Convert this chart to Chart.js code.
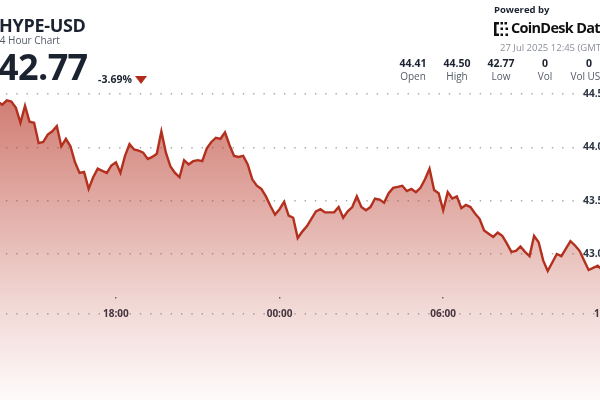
<!DOCTYPE html>
<html>
<head>
<meta charset="utf-8">
<script src="https://cdn.jsdelivr.net/npm/chart.js@4.4.1/dist/chart.umd.min.js"></script>
<style>
html,body{margin:0;padding:0;width:600px;height:400px;overflow:hidden;background:#fff;font-family:'Open Sans',sans-serif;color:#1b2230;}
#wrap{position:absolute;left:-25px;top:0;width:650px;height:400px;}
.t{position:absolute;white-space:nowrap;line-height:1;}
.col{position:absolute;width:60px;text-align:center;white-space:nowrap;line-height:1;}
.v{top:57.5px;font-size:10.5px;font-weight:700;color:#1b2230;}
.l{top:71px;font-size:10px;color:#555b66;}
</style>
</head>
<body>
<div id="wrap"><canvas id="c"></canvas></div>

<div class="t" style="left:-1px;top:15.5px;font-size:18px;font-weight:700;letter-spacing:-0.3px;">HYPE-USD</div>
<div class="t" style="left:-6px;top:35.3px;font-size:10px;color:#555b66;">24 Hour Chart</div>
<div class="t" style="left:-2px;top:49px;font-size:36px;font-weight:700;letter-spacing:-0.6px;">42.77</div>
<div class="t" style="left:98px;top:73.5px;font-size:10.5px;font-weight:700;">-3.69%</div>
<svg style="position:absolute;left:135px;top:76px" width="12" height="8"><polygon points="0,0 12,0 6,8" fill="#b22a1c"/></svg>

<div class="t" style="left:494px;top:5px;font-size:9.5px;font-weight:700;">Powered by</div>
<svg style="position:absolute;left:494px;top:22px" width="15" height="14">
  <rect x="0" y="0" width="2.5" height="14" fill="#111"/>
  <rect x="0" y="0" width="5" height="2.5" fill="#111"/>
  <rect x="0" y="11.5" width="5" height="2.5" fill="#111"/>
  <rect x="6.5" y="0" width="2.5" height="2.5" fill="#111"/>
  <rect x="10.5" y="0" width="2.5" height="2.5" fill="#111"/>
  <rect x="6.5" y="5.5" width="2.5" height="2.5" fill="#111"/>
  <rect x="11.5" y="5.5" width="2.5" height="2.5" fill="#111"/>
  <rect x="6.5" y="11.5" width="2.5" height="2.5" fill="#111"/>
  <rect x="11.5" y="11.5" width="2.5" height="2.5" fill="#111"/>
</svg>
<div class="t" style="left:511px;top:21px;font-size:14.5px;font-weight:700;letter-spacing:-0.7px;color:#111;">CoinDesk Data</div>
<div class="t" style="left:500px;top:42.6px;font-size:9.5px;color:#8a8f98;">27 Jul 2025 12:45 (GMT)</div>

<div class="col v" style="left:383px">44.41</div>
<div class="col l" style="left:383px">Open</div>
<div class="col v" style="left:427px">44.50</div>
<div class="col l" style="left:427px">High</div>
<div class="col v" style="left:471px">42.77</div>
<div class="col l" style="left:471px">Low</div>
<div class="col v" style="left:515px">0</div>
<div class="col l" style="left:515px">Vol</div>
<div class="col v" style="left:559px">0</div>
<div class="col l" style="left:559px">Vol USD</div>

<script>
// 10-minute closes, 26 Jul 12:50 -> 27 Jul 12:40 (GMT)
const startTime = '12:50';
const stepMinutes = 10;
const prices = [
  44.41, 44.46, 44.50, 44.47, 44.45, 44.43, 44.40, 44.44, 44.43, 44.37, 44.23, 44.39,
  44.24, 44.23, 44.04, 44.05, 44.12, 44.15, 44.20, 44.01, 44.08, 44.01, 43.86, 43.76,
  43.77, 43.61, 43.72, 43.80, 43.78, 43.76, 43.83, 43.86, 43.76, 43.92, 44.03, 43.98,
  43.97, 43.95, 43.89, 43.91, 43.94, 44.15, 43.95, 43.82, 43.76, 43.72, 43.88, 43.84,
  43.87, 43.88, 43.87, 43.99, 44.05, 44.09, 44.08, 44.14, 44.02, 43.92, 43.91, 43.92,
  43.84, 43.70, 43.64, 43.61, 43.54, 43.45, 43.37, 43.42, 43.49, 43.36, 43.34, 43.15,
  43.21, 43.26, 43.33, 43.40, 43.42, 43.39, 43.39, 43.39, 43.44, 43.34, 43.40, 43.44,
  43.54, 43.44, 43.41, 43.44, 43.52, 43.51, 43.48, 43.57, 43.62, 43.63, 43.64, 43.59,
  43.61, 43.58, 43.62, 43.70, 43.80, 43.60, 43.57, 43.41, 43.58, 43.52, 43.54, 43.43,
  43.46, 43.44, 43.38, 43.33, 43.22, 43.19, 43.16, 43.20, 43.17, 43.10, 43.02, 43.03,
  43.07, 43.02, 42.98, 43.17, 43.11, 42.94, 42.84, 42.92, 43.00, 42.98, 43.05, 43.12,
  43.08, 43.03, 42.94, 42.85, 42.87, 42.89, 42.85, 42.83, 42.85, 42.81, 42.79, 42.77
];
const xTickLabels = ['18:00', '00:00', '06:00', '12:00'];
const yTickValues = [43.0, 43.5, 44.0, 44.5];

// time categories at the sampling step
const times = [];
const [h0, m0] = startTime.split(':').map(Number);
for (let i = 0; i < prices.length; i++) {
  const m = (h0 * 60 + m0 + i * stepMinutes) % 1440;
  times.push(String(Math.floor(m / 60)).padStart(2, '0') + ':' + String(m % 60).padStart(2, '0'));
}

const Y_MIN = 41.63125, Y_MAX = 45.38125, AXIS_LINE = 42.4375;
const tickFont = {family: 'Open Sans', size: 10, weight: 'bold'};

new Chart(document.getElementById('c'), {
  type: 'line',
  data: {
    labels: times,
    datasets: [{
      data: prices,
      borderColor: '#b3301e',
      borderWidth: 2.4,
      pointRadius: 0,
      tension: 0,
      fill: 'start',
      backgroundColor: (c) => {
        const ch = c.chart;
        if (!ch.chartArea) return 'rgba(0,0,0,0)';
        const yTop = ch.scales.y.getPixelForValue(44.5);
        const g = ch.ctx.createLinearGradient(0, yTop, 0, ch.chartArea.bottom);
        g.addColorStop(0, 'rgba(185,60,45,0.68)');
        g.addColorStop(0.67, 'rgba(185,60,45,0.21)');
        g.addColorStop(1, 'rgba(185,60,45,0.02)');
        return g;
      }
    }]
  },
  options: {
    responsive: true,
    maintainAspectRatio: false,
    animation: false,
    layout: {padding: 0},
    plugins: {legend: {display: false}, tooltip: {enabled: false}},
    scales: {
      x: {
        type: 'category',
        position: {y: AXIS_LINE},
        offset: false,
        afterBuildTicks: (s) => { s.ticks = s.ticks.filter(t => xTickLabels.includes(times[t.value])); },
        afterFit: (s) => { s.paddingLeft = 0; s.paddingRight = 0; s.paddingTop = 0; s.paddingBottom = 0; },
        grid: {drawOnChartArea: true, drawTicks: false, color: '#5b6270', lineWidth: 1.4},
        border: {display: false, dash: [1.4, 5000], dashOffset: 4704.4},
        ticks: {autoSkip: false, maxRotation: 0, padding: -6, color: '#2b3342', font: tickFont}
      },
      y: {
        position: 'right',
        min: Y_MIN,
        max: Y_MAX,
        afterBuildTicks: (s) => { s.ticks = [AXIS_LINE, ...yTickValues].map(v => ({value: v})); },
        afterFit: (s) => { s.width = 0; s.paddingTop = 0; s.paddingBottom = 0; s.paddingLeft = 0; s.paddingRight = 0; },
        grid: {drawTicks: false, color: 'rgba(125,125,125,0.65)', lineWidth: 1.4},
        border: {display: false, dash: [1.4, 8.9]},
        ticks: {
          mirror: true,
          padding: -16,
          color: '#2b3342',
          font: tickFont,
          callback: (v) => (v >= 43 ? Number(v).toFixed(2) : '')
        }
      }
    }
  }
});
</script>
</body>
</html>
